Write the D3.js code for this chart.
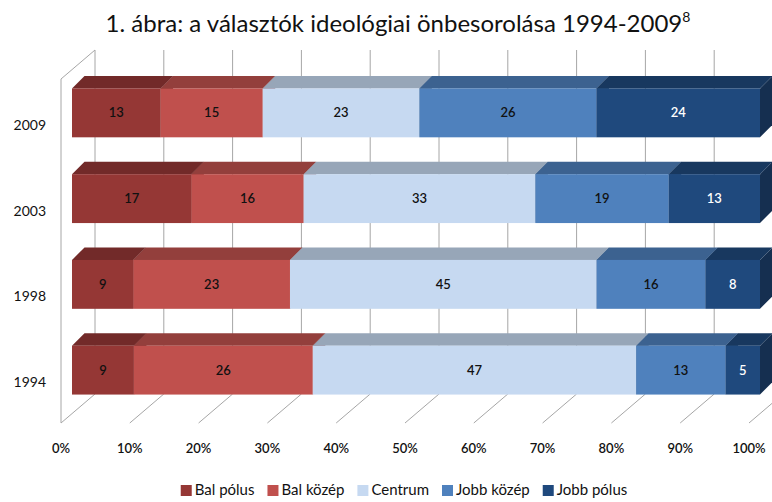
<!DOCTYPE html>
<html>
<head>
<meta charset="utf-8">
<script src="https://cdn.jsdelivr.net/npm/d3@7"></script>
<style>
  body { margin: 0; background: #fff; }
  svg { display: block; font-family: Lato, "Open Sans", sans-serif; }
</style>
</head>
<body>
<svg id="chart" width="772" height="502"></svg>
<script>
// data
var years = ["2009", "2003", "1998", "1994"];
var series = ["Bal pólus", "Bal közép", "Centrum", "Jobb közép", "Jobb pólus"];
var values = {
  "2009": [13, 15, 23, 26, 24],
  "2003": [17, 16, 33, 19, 13],
  "1998": [9, 23, 45, 16, 8],
  "1994": [9, 26, 47, 13, 5]
};
var ticks = [0, 0.1, 0.2, 0.3, 0.4, 0.5, 0.6, 0.7, 0.8, 0.9, 1];

var frontColors = ["#953735", "#c0504d", "#c6d9f1", "#4f81bd", "#1f497d"];
var topColors   = ["#722a29", "#933f3c", "#97a6b8", "#3c6290", "#18385f"];
var sideColors  = ["#5e2221", "#7a3432", "#7f8b9a", "#325278", "#152f50"];
var labelColors = ["#111", "#111", "#111", "#111", "#ffffff"];

var svg = d3.select('#chart');

// front plane of the floor / walls
var xFloor = d3.scaleLinear().domain([0, 1]).range([61, 749]);
// front face of the bars (bars sit a bit deeper)
var xBar = d3.scaleLinear().domain([0, 1]).range([72, 760]);
var y = d3.scaleBand().domain(years).range([70, 413]).paddingInner(0.43).paddingOuter(0.215);

var depthX = 34, depthY = -29;     // full depth of the box
var barDX = 12.5, barDY = -12.5;   // depth of the bars
var floorY = 423, wallTop = 79;

// title
var title = svg.append('text')
  .attr('x', 398)
  .attr('y', 32)
  .attr('text-anchor', 'middle')
  .style('font-size', '24px')
  .style('fill', '#111');
title.append('tspan').text('1. ábra: a választók ideológiai önbesorolása 1994-2009');
title.append('tspan').attr('dy', -10).style('font-size', '14px').text('8');

var grid = svg.append('g')
  .style('stroke', '#a6a6a6')
  .style('stroke-width', 1)
  .style('fill', 'none');

// back wall gridlines
grid.selectAll('line.back')
  .data(ticks)
  .enter().append('line')
  .attr('class', 'back')
  .attr('x1', function(d) { return xFloor(d) + depthX; })
  .attr('x2', function(d) { return xFloor(d) + depthX; })
  .attr('y1', wallTop + depthY)
  .attr('y2', floorY + depthY);

// floor gridlines
grid.selectAll('line.floor')
  .data(ticks)
  .enter().append('line')
  .attr('class', 'floor')
  .attr('x1', function(d) { return xFloor(d); })
  .attr('y1', floorY)
  .attr('x2', function(d) { return xFloor(d) + depthX; })
  .attr('y2', floorY + depthY);

// left wall
grid.append('line')
  .attr('x1', xFloor(0)).attr('y1', wallTop)
  .attr('x2', xFloor(0)).attr('y2', floorY);
grid.append('line')
  .attr('x1', xFloor(0)).attr('y1', wallTop)
  .attr('x2', xFloor(0) + depthX).attr('y2', wallTop + depthY);

// bars
years.forEach(function(yr) {
  var vals = values[yr];
  var total = d3.sum(vals);
  var acc = 0;
  var segs = vals.map(function(v, i) {
    var s = { v: v, i: i, x0: acc / total, x1: (acc + v) / total };
    acc += v;
    return s;
  });

  var g = svg.append('g');
  var top = y(yr), bot = y(yr) + y.bandwidth();

  segs.forEach(function(s) {
    var a = xBar(s.x0), b = xBar(s.x1);
    // side face
    g.append('path')
      .attr('d', 'M' + b + ',' + top + 'L' + (b + barDX) + ',' + (top + barDY) +
        'L' + (b + barDX) + ',' + (bot + barDY) + 'L' + b + ',' + bot + 'Z')
      .style('fill', sideColors[s.i]);
    // top face
    g.append('path')
      .attr('d', 'M' + a + ',' + top + 'L' + (a + barDX) + ',' + (top + barDY) +
        'L' + (b + barDX) + ',' + (top + barDY) + 'L' + b + ',' + top + 'Z')
      .style('fill', topColors[s.i]);
    // front face
    g.append('rect')
      .attr('x', a)
      .attr('y', top)
      .attr('width', b - a)
      .attr('height', bot - top)
      .style('fill', frontColors[s.i]);
  });

  g.selectAll('text')
    .data(segs)
    .enter().append('text')
    .attr('x', function(d) { return (xBar(d.x0) + xBar(d.x1)) / 2; })
    .attr('y', (top + bot) / 2)
    .attr('dy', '0.35em')
    .attr('text-anchor', 'middle')
    .style('font-size', '13px')
    .style('font-weight', '600')
    .style('fill', function(d) { return labelColors[d.i]; })
    .text(function(d) { return d.v; });

  svg.append('text')
    .attr('x', 46)
    .attr('y', (top + bot) / 2 + 12)
    .attr('dy', '0.35em')
    .attr('text-anchor', 'end')
    .style('font-size', '14px')
    .style('fill', '#111')
    .text(yr);
});

// x tick labels
svg.append('g').selectAll('text')
  .data(ticks)
  .enter().append('text')
  .attr('x', function(d) { return xFloor(d); })
  .attr('y', 448)
  .attr('dy', '0.35em')
  .attr('text-anchor', 'middle')
  .style('font-size', '13px')
  .style('font-weight', '600')
  .style('fill', '#111')
  .text(d3.format('.0%'));

// legend
var legend = svg.append('g');
var lx = 0, gap = 13;
series.forEach(function(name, i) {
  var item = legend.append('g').attr('transform', 'translate(' + lx + ',0)');
  item.append('rect')
    .attr('x', 0).attr('y', -5)
    .attr('width', 11).attr('height', 11)
    .style('fill', frontColors[i]);
  var t = item.append('text')
    .attr('x', 14)
    .attr('y', 0)
    .attr('dy', '0.35em')
    .style('font-size', '15px')
    .style('fill', '#111')
    .text(name);
  lx += 14 + t.node().getComputedTextLength() + gap;
});
lx -= gap;
legend.attr('transform', 'translate(' + (404 - lx / 2) + ',490)');
</script>
</body>
</html>
